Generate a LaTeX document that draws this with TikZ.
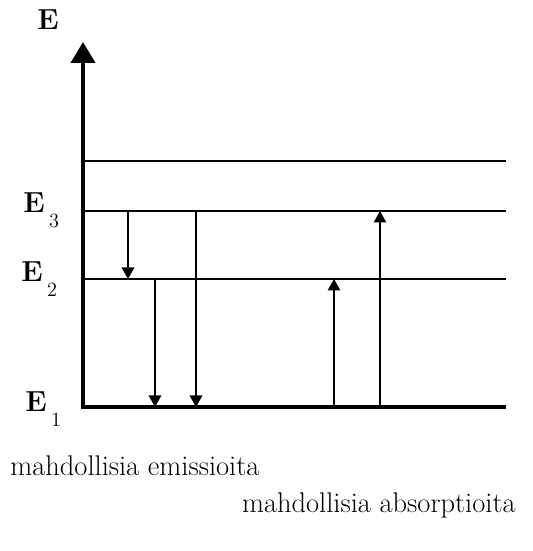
\documentclass[tikz,border=0pt]{standalone}
\usepackage{tikz}
\usetikzlibrary{arrows.meta}

\newcommand{\lvlname}[1]{{\fontsize{16.5}{18}\selectfont\bfseries E}\hspace{2.5pt}\raisebox{-8.5pt}{\fontsize{11.5}{12}\selectfont #1}}

\begin{document}
\begin{tikzpicture}[
    axis/.style={line width=0.08cm, line join=miter},
    level/.style={line width=0.03cm},
    arr/.style={-{Triangle[length=2.3mm, width=2.5mm]}, line width=0.03cm},
    txt/.style={font=\fontsize{16.2}{18}\selectfont, inner sep=0pt}
]
    \useasboundingbox (0,0) rectangle (10.66,11.02);
    % energy levels
    \foreach \n/\y in {1/2.88, 2/5.44, 3/6.80, 4/7.80} {
        \coordinate (l\n) at (1.66,\y);
        \coordinate (r\n) at (10.12,\y);
    }
    \coordinate (ax) at (1.66,10.18);
    \foreach \n in {2,3,4} {
        \draw[level] (l\n) -- (r\n);
    }
    \draw[axis, {Triangle[length=4.2mm, width=4.8mm]}-] (ax) -- (l1) -- (r1);
    % transitions
    \foreach \x/\a/\b in {2.56/3/2, 3.10/2/1, 3.92/3/1, 6.68/1/2, 7.60/1/3} {
        \draw[arr] (\x,0 |- l\a) -- (\x,0 |- l\b);
    }
    % labels
    \node[anchor=base west, inner sep=0pt] (etop) at (0.74,10.42) {\fontsize{16.5}{18}\selectfont\bfseries E};
    \node[anchor=base west, inner sep=0pt] (e3) at (0.46,6.76) {\lvlname{3}};
    \node[anchor=base west, inner sep=0pt] (e2) at (0.42,5.38) {\lvlname{2}};
    \node[anchor=base west, inner sep=0pt] (e1) at (0.50,2.78) {\lvlname{1}};
    \node[txt, anchor=base west] (emis) at (0.20,1.50) {mahdollisia emissioita};
    \node[txt, anchor=base east] (abso) at (10.32,0.78) {mahdollisia absorptioita};
\end{tikzpicture}
\end{document}
